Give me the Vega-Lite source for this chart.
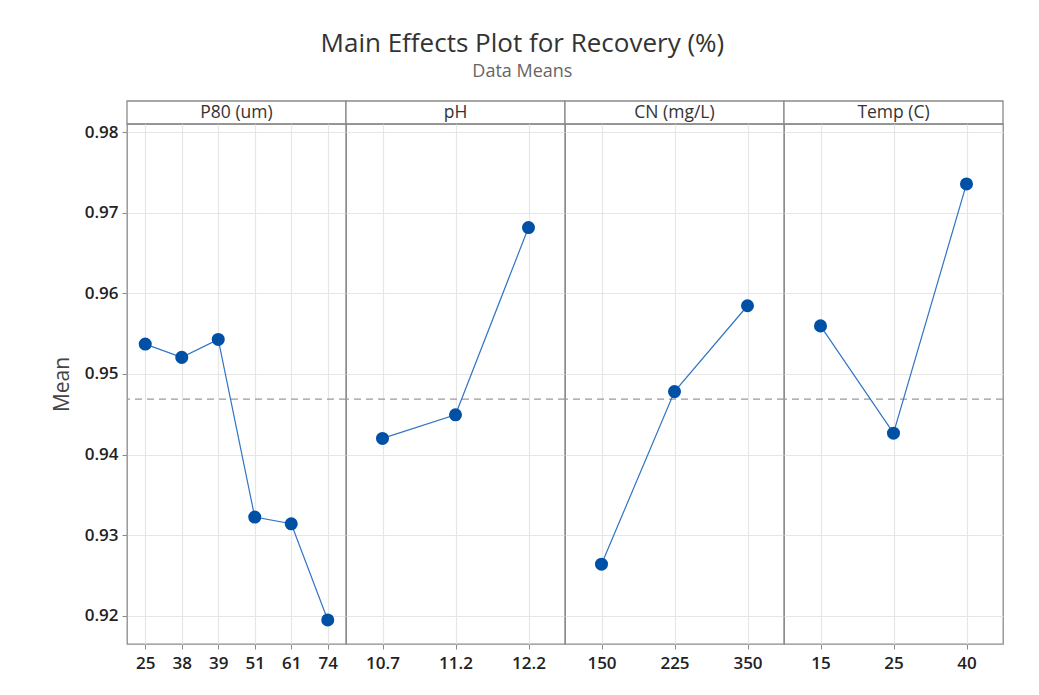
{
  "$schema": "https://vega.github.io/schema/vega-lite/v6.json",
  "padding": {"left": 50, "top": 31, "right": 34, "bottom": 5},
  "background": "white",
  "title": {
    "text": "Main Effects Plot for Recovery (%)",
    "subtitle": "Data Means",
    "anchor": "middle",
    "font": "Open Sans",
    "fontSize": 26,
    "fontWeight": "normal",
    "color": "#333333",
    "subtitleFont": "Open Sans",
    "subtitleFontSize": 18,
    "subtitleColor": "#666666",
    "subtitlePadding": 6,
    "offset": 19,
    "dx": -5
  },
  "datasets": {
    "effects": [
      {"factor": "P80 (um)", "level": "25", "mean": 0.95371},
      {"factor": "P80 (um)", "level": "38", "mean": 0.95206},
      {"factor": "P80 (um)", "level": "39", "mean": 0.95429},
      {"factor": "P80 (um)", "level": "51", "mean": 0.93223},
      {"factor": "P80 (um)", "level": "61", "mean": 0.9314},
      {"factor": "P80 (um)", "level": "74", "mean": 0.91946},
      {"factor": "pH", "level": "10.7", "mean": 0.942},
      {"factor": "pH", "level": "11.2", "mean": 0.94493},
      {"factor": "pH", "level": "12.2", "mean": 0.96818},
      {"factor": "CN (mg/L)", "level": "150", "mean": 0.92638},
      {"factor": "CN (mg/L)", "level": "225", "mean": 0.94781},
      {"factor": "CN (mg/L)", "level": "350", "mean": 0.95847},
      {"factor": "Temp (C)", "level": "15", "mean": 0.95597},
      {"factor": "Temp (C)", "level": "25", "mean": 0.94265},
      {"factor": "Temp (C)", "level": "40", "mean": 0.9736}
    ],
    "grand": [{"grandMean": 0.94688}],
    "headers": [
      {"factor": "P80 (um)"},
      {"factor": "pH"},
      {"factor": "CN (mg/L)"},
      {"factor": "Temp (C)"}
    ]
  },
  "columns": 4,
  "spacing": 0,
  "bounds": "flush",
  "concat": [
    {"width": 219, "height": 23, "data": {"name": "headers"}, "transform": [{"filter": "datum.factor === 'P80 (um)'"}], "layer": [
      {"mark": {"type": "rect", "fill": "white", "stroke": "#8a8a8a", "strokeWidth": 1.3}},
      {"mark": {"type": "text", "font": "Open Sans", "fontSize": 17.5, "color": "#333333", "baseline": "middle", "dy": 0}, "encoding": {"text": {"field": "factor", "type": "nominal"}}}
    ]},
    {"width": 219, "height": 23, "data": {"name": "headers"}, "transform": [{"filter": "datum.factor === 'pH'"}], "layer": [
      {"mark": {"type": "rect", "fill": "white", "stroke": "#8a8a8a", "strokeWidth": 1.3}},
      {"mark": {"type": "text", "font": "Open Sans", "fontSize": 17.5, "color": "#333333", "baseline": "middle", "dy": 0}, "encoding": {"text": {"field": "factor", "type": "nominal"}}}
    ]},
    {"width": 219, "height": 23, "data": {"name": "headers"}, "transform": [{"filter": "datum.factor === 'CN (mg/L)'"}], "layer": [
      {"mark": {"type": "rect", "fill": "white", "stroke": "#8a8a8a", "strokeWidth": 1.3}},
      {"mark": {"type": "text", "font": "Open Sans", "fontSize": 17.5, "color": "#333333", "baseline": "middle", "dy": 0}, "encoding": {"text": {"field": "factor", "type": "nominal"}}}
    ]},
    {"width": 219, "height": 23, "data": {"name": "headers"}, "transform": [{"filter": "datum.factor === 'Temp (C)'"}], "layer": [
      {"mark": {"type": "rect", "fill": "white", "stroke": "#8a8a8a", "strokeWidth": 1.3}},
      {"mark": {"type": "text", "font": "Open Sans", "fontSize": 17.5, "color": "#333333", "baseline": "middle", "dy": 0}, "encoding": {"text": {"field": "factor", "type": "nominal"}}}
    ]},
    {
      "width": 219, "height": 520,
      "layer": [
        {"data": {"name": "grand"}, "mark": {"type": "rule", "color": "#9a9a9a", "strokeDash": [7, 5], "strokeWidth": 1.2}, "encoding": {"y": {"field": "grandMean", "type": "quantitative", "scale": {"domain": [0.91647, 0.98104], "nice": false, "zero": false}, "axis": {"title": "Mean", "values": [0.92, 0.93, 0.94, 0.95, 0.96, 0.97, 0.98], "format": ".2f"}}}},
        {"data": {"name": "effects"}, "transform": [{"filter": "datum.factor === 'P80 (um)'"}], "mark": {"type": "line", "color": "#2F74C6", "strokeWidth": 1.2}, "encoding": {"x": {"field": "level", "type": "ordinal", "sort": null, "axis": {"title": null, "labelAngle": 0}}, "y": {"field": "mean", "type": "quantitative"}}},
        {"data": {"name": "effects"}, "transform": [{"filter": "datum.factor === 'P80 (um)'"}], "mark": {"type": "point", "filled": true, "opacity": 1, "color": "#0050A5", "size": 170}, "encoding": {"x": {"field": "level", "type": "ordinal", "sort": null}, "y": {"field": "mean", "type": "quantitative"}}}
      ]
    },
    {
      "width": 219, "height": 520,
      "layer": [
        {"data": {"name": "grand"}, "mark": {"type": "rule", "color": "#9a9a9a", "strokeDash": [7, 5], "strokeWidth": 1.2}, "encoding": {"y": {"field": "grandMean", "type": "quantitative", "scale": {"domain": [0.91647, 0.98104], "nice": false, "zero": false}, "axis": {"title": null, "labels": false, "ticks": false, "values": [0.92, 0.93, 0.94, 0.95, 0.96, 0.97, 0.98]}}}},
        {"data": {"name": "effects"}, "transform": [{"filter": "datum.factor === 'pH'"}], "mark": {"type": "line", "color": "#2F74C6", "strokeWidth": 1.2}, "encoding": {"x": {"field": "level", "type": "ordinal", "sort": null, "axis": {"title": null, "labelAngle": 0}}, "y": {"field": "mean", "type": "quantitative"}}},
        {"data": {"name": "effects"}, "transform": [{"filter": "datum.factor === 'pH'"}], "mark": {"type": "point", "filled": true, "opacity": 1, "color": "#0050A5", "size": 170}, "encoding": {"x": {"field": "level", "type": "ordinal", "sort": null}, "y": {"field": "mean", "type": "quantitative"}}}
      ]
    },
    {
      "width": 219, "height": 520,
      "layer": [
        {"data": {"name": "grand"}, "mark": {"type": "rule", "color": "#9a9a9a", "strokeDash": [7, 5], "strokeWidth": 1.2}, "encoding": {"y": {"field": "grandMean", "type": "quantitative", "scale": {"domain": [0.91647, 0.98104], "nice": false, "zero": false}, "axis": {"title": null, "labels": false, "ticks": false, "values": [0.92, 0.93, 0.94, 0.95, 0.96, 0.97, 0.98]}}}},
        {"data": {"name": "effects"}, "transform": [{"filter": "datum.factor === 'CN (mg/L)'"}], "mark": {"type": "line", "color": "#2F74C6", "strokeWidth": 1.2}, "encoding": {"x": {"field": "level", "type": "ordinal", "sort": null, "axis": {"title": null, "labelAngle": 0}}, "y": {"field": "mean", "type": "quantitative"}}},
        {"data": {"name": "effects"}, "transform": [{"filter": "datum.factor === 'CN (mg/L)'"}], "mark": {"type": "point", "filled": true, "opacity": 1, "color": "#0050A5", "size": 170}, "encoding": {"x": {"field": "level", "type": "ordinal", "sort": null}, "y": {"field": "mean", "type": "quantitative"}}}
      ]
    },
    {
      "width": 219, "height": 520,
      "layer": [
        {"data": {"name": "grand"}, "mark": {"type": "rule", "color": "#9a9a9a", "strokeDash": [7, 5], "strokeWidth": 1.2}, "encoding": {"y": {"field": "grandMean", "type": "quantitative", "scale": {"domain": [0.91647, 0.98104], "nice": false, "zero": false}, "axis": {"title": null, "labels": false, "ticks": false, "values": [0.92, 0.93, 0.94, 0.95, 0.96, 0.97, 0.98]}}}},
        {"data": {"name": "effects"}, "transform": [{"filter": "datum.factor === 'Temp (C)'"}], "mark": {"type": "line", "color": "#2F74C6", "strokeWidth": 1.2}, "encoding": {"x": {"field": "level", "type": "ordinal", "sort": null, "axis": {"title": null, "labelAngle": 0}}, "y": {"field": "mean", "type": "quantitative"}}},
        {"data": {"name": "effects"}, "transform": [{"filter": "datum.factor === 'Temp (C)'"}], "mark": {"type": "point", "filled": true, "opacity": 1, "color": "#0050A5", "size": 170}, "encoding": {"x": {"field": "level", "type": "ordinal", "sort": null}, "y": {"field": "mean", "type": "quantitative"}}}
      ]
    }
  ],
  "config": {
    "view": {"stroke": "#8a8a8a", "strokeWidth": 1.3},
    "axis": {
      "domain": false,
      "grid": true,
      "gridColor": "#e6e6e6",
      "gridWidth": 1.2,
      "tickColor": "#8a8a8a",
      "tickSize": 5,
      "labelFont": "Open Sans",
      "labelFontSize": 17,
      "labelFontWeight": 600,
      "labelColor": "#222222",
      "titleFont": "Open Sans",
      "titleFontSize": 21,
      "titleFontWeight": "normal",
      "titleColor": "#444444",
      "titlePadding": 12
    },
    "axisY": {"labelPadding": 4},
    "axisX": {"labelPadding": 6}
  }
}
